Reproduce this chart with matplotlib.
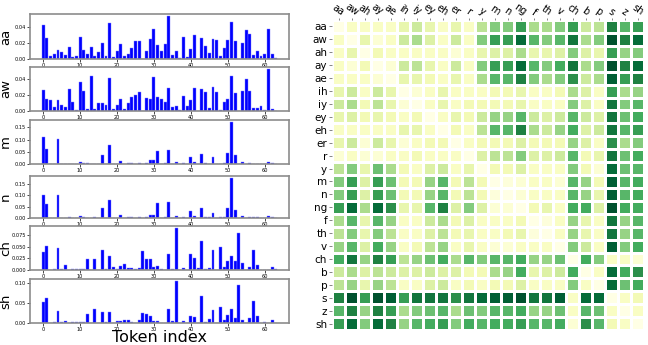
import matplotlib
matplotlib.use("Agg")
import matplotlib.pyplot as plt
import numpy as np

# token attention weights for a few phones (64 tokens)
aa = [0.042, 0.026, 0.004, 0.006, 0.0115, 0.0085, 0.005, 0.015, 0.003, 0.004,
      0.027, 0.0115, 0.0065, 0.015, 0.004, 0.009, 0.0195, 0.004, 0.044, 0.002,
      0.0105, 0.019, 0.004, 0.006, 0.013, 0.022, 0.022, 0.0, 0.0105, 0.025,
      0.037, 0.017, 0.010, 0.019, 0.053, 0.0055, 0.0105, 0.001, 0.0275, 0.002,
      0.012, 0.030, 0.0002, 0.0265, 0.0155, 0.008, 0.025, 0.023, 0.004, 0.0135,
      0.024, 0.046, 0.022, 0.0, 0.0195, 0.036, 0.0315, 0.0045, 0.010, 0.0035,
      0.006, 0.037, 0.006, 0.0015]
aw = [0.0265, 0.0156, 0.014, 0.005, 0.0135, 0.007, 0.005, 0.028, 0.011, 0.0017,
      0.036, 0.025, 0.0025, 0.044, 0.0025, 0.0097, 0.0097, 0.008, 0.042, 0.003,
      0.007, 0.015, 0.003, 0.0105, 0.017, 0.020, 0.0235, 0.0, 0.016, 0.015,
      0.0425, 0.018, 0.0147, 0.011, 0.029, 0.0055, 0.0063, 0.001, 0.019, 0.0063,
      0.014, 0.0286, 0.0003, 0.027, 0.0235, 0.004, 0.030, 0.0235, 0.001, 0.0118,
      0.0156, 0.044, 0.022, 0.0, 0.025, 0.040, 0.0257, 0.004, 0.004, 0.0063,
      0.0017, 0.0526, 0.002, 0.0004]
m = [0.111, 0.063, 0.001, 0.001, 0.102, 0.001, 0.001, 0.001, 0.001, 0.001,
     0.007, 0.004, 0.004, 0.0, 0.001, 0.002, 0.0385, 0.001, 0.076, 0.001,
     0.002, 0.0125, 0.001, 0.004, 0.004, 0.001, 0.004, 0.0, 0.004, 0.0165,
     0.0165, 0.052, 0.001, 0.0055, 0.058, 0.001, 0.007, 0.001, 0.003, 0.001,
     0.0275, 0.008, 0.001, 0.043, 0.005, 0.001, 0.029, 0.002, 0.002, 0.004,
     0.044, 0.172, 0.0385, 0.0, 0.0095, 0.001, 0.0055, 0.001, 0.001, 0.001,
     0.001, 0.007, 0.004, 0.001]
n = [0.102, 0.062, 0.001, 0.001, 0.102, 0.001, 0.001, 0.003, 0.001, 0.001,
     0.007, 0.003, 0.001, 0.0, 0.003, 0.001, 0.044, 0.001, 0.077, 0.001,
     0.001, 0.0125, 0.001, 0.004, 0.004, 0.001, 0.004, 0.0, 0.004, 0.014,
     0.014, 0.066, 0.001, 0.0055, 0.070, 0.001, 0.0095, 0.001, 0.003, 0.001,
     0.030, 0.0095, 0.001, 0.0455, 0.004, 0.005, 0.0235, 0.001, 0.005, 0.005,
     0.0455, 0.175, 0.037, 0.0, 0.007, 0.001, 0.004, 0.003, 0.003, 0.001,
     0.001, 0.008, 0.003, 0.001]
ch = [0.039, 0.052, 0.001, 0.002, 0.047, 0.003, 0.010, 0.001, 0.002, 0.0015,
      0.0015, 0.003, 0.0235, 0.001, 0.0235, 0.001, 0.042, 0.002, 0.031, 0.006,
      0.003, 0.008, 0.013, 0.0045, 0.0045, 0.002, 0.0045, 0.041, 0.023, 0.023,
      0.006, 0.008, 0.002, 0.001, 0.034, 0.003, 0.090, 0.001, 0.004, 0.001,
      0.034, 0.026, 0.004, 0.062, 0.003, 0.005, 0.042, 0.001, 0.049, 0.0065,
      0.020, 0.030, 0.020, 0.080, 0.014, 0.001, 0.007, 0.044, 0.011, 0.001,
      0.001, 0.001, 0.007, 0.002]
sh = [0.052, 0.064, 0.001, 0.003, 0.031, 0.002, 0.006, 0.001, 0.002, 0.002,
      0.002, 0.002, 0.022, 0.001, 0.036, 0.001, 0.028, 0.002, 0.027, 0.001,
      0.004, 0.004, 0.007, 0.007, 0.002, 0.001, 0.007, 0.026, 0.023, 0.018,
      0.004, 0.005, 0.001, 0.001, 0.035, 0.004, 0.106, 0.001, 0.006, 0.001,
      0.018, 0.016, 0.001, 0.068, 0.002, 0.009, 0.033, 0.001, 0.040, 0.007,
      0.020, 0.035, 0.012, 0.097, 0.007, 0.001, 0.013, 0.055, 0.018, 0.001,
      0.002, 0.001, 0.007, 0.001]

bar_names = ["aa", "aw", "m", "n", "ch", "sh"]
bar_series = [aa, aw, m, n, ch, sh]
bar_yticks = [[0, 0.02, 0.04], [0, 0.02, 0.04], [0, 0.05, 0.10, 0.15],
              [0, 0.05, 0.10, 0.15], [0, 0.025, 0.05, 0.075], [0, 0.05, 0.10]]
bar_yfmt = ["%.2f", "%.2f", "%.2f", "%.2f", "%.3f", "%.2f"]

# distance between phones (0 = same, 10 = far)
phones = ["aa", "aw", "ah", "ay", "ae", "ih", "iy", "ey", "eh", "er", "r", "y",
          "m", "n", "ng", "f", "th", "v", "ch", "b", "p", "s", "z", "sh"]
dist = [
    [0, 1, 1, 1, 1, 2, 3, 2, 1, 2, 1, 3.5, 5, 5, 7, 4, 4, 5, 7, 3, 3.5, 8, 6, 7],
    [1, 0, 2, 0.5, 1, 3, 4, 2.5, 1, 3, 1, 5, 7, 7, 9, 6, 5, 6, 8.5, 4, 5, 10, 8, 9],
    [1, 2, 0, 1.5, 1, 1, 1, 1, 1, 0.5, 1, 2, 2.5, 2.5, 4, 2, 2, 2.5, 5, 2.5, 2, 7, 4.5, 5],
    [1, 0.5, 1.5, 0, 0.5, 3, 3.5, 2, 1, 3, 1, 5, 7, 7, 9, 6, 5, 6.5, 8.5, 4, 5, 10, 8, 9],
    [1, 1, 1, 0.5, 0, 2, 2, 1.5, 1, 2, 1, 4, 6, 6, 8, 5, 4, 5, 7.5, 3, 4, 9.5, 7, 8],
    [2, 3, 1, 3, 2, 0, 0.5, 1, 2, 1, 1, 1, 1.5, 1.5, 2, 1, 1, 1.5, 4, 2.5, 1, 7, 4, 4.5],
    [3, 4, 1.5, 3.5, 2, 0.5, 0, 1, 2, 1, 1.5, 1.5, 1.5, 1.5, 2, 1, 1, 1, 5, 2.5, 1, 8.5, 5, 6],
    [2, 2.5, 1.5, 2, 1.5, 1, 1.5, 0, 1, 2, 1.5, 3, 4.5, 4.5, 6, 3, 2.5, 3, 6, 3, 2.5, 8.5, 5.5, 6.5],
    [1, 1, 1, 1, 1, 2, 2, 1, 0, 1.5, 1, 3.5, 6, 6, 8, 4, 3, 4.5, 6.5, 2.5, 3, 8.5, 6, 7],
    [2, 3, 0.5, 3, 2, 0.5, 1, 1.5, 1.5, 0, 1, 1.5, 1.5, 1.5, 2.5, 1.5, 1.5, 1.5, 4.5, 2.5, 1, 7.5, 4, 5],
    [0.5, 1, 0.5, 0.5, 1, 1, 1.5, 1, 1, 1, 0, 2.5, 3.5, 3.5, 5, 2.5, 2.5, 3, 6, 1.5, 2, 8.5, 5.5, 6.5],
    [3.5, 5, 2, 5.5, 4, 1.5, 1, 2.5, 3, 1, 2, 0, 1.5, 1.5, 2.5, 1, 1, 1, 5, 1.5, 0.5, 9, 5.5, 6],
    [5, 7, 2.5, 7, 5.5, 1.5, 1.5, 4.5, 6, 1.5, 3.5, 1.5, 0, 0.3, 0.5, 1, 1, 0.5, 6, 4.5, 1.5, 9.5, 6, 6.5],
    [5, 7, 2.5, 7, 5.5, 1.5, 1.5, 4.5, 6, 1.5, 3.5, 1.5, 0.3, 0, 0.5, 1, 1, 1, 6, 4.5, 2, 9.5, 6, 6.5],
    [7, 9, 4, 9, 7.5, 2, 2, 6, 8, 2.5, 5, 2.5, 0.5, 0.5, 0, 1.5, 2, 1, 6.5, 6.5, 2.5, 10, 6.5, 6.5],
    [4, 6, 2, 6, 4.5, 1, 1, 3, 4, 1.5, 2.5, 1, 1, 1, 1.5, 0, 0.3, 1, 4.5, 2, 1, 8.5, 4.5, 6],
    [3.5, 5, 2, 5, 3.5, 1, 1, 2.5, 3.5, 1.5, 2, 1, 1, 1.5, 2, 0.3, 0, 1, 4.5, 2, 1, 8.5, 4.5, 6],
    [4.5, 6, 2.5, 6.5, 4.5, 1, 1.5, 3.5, 4.5, 1, 2, 1, 0.5, 0.5, 1, 1, 1, 0, 5, 3, 1, 9.5, 5, 6.5],
    [6.5, 8.5, 4.5, 8, 7, 3.5, 4.5, 5.5, 6.5, 4, 6, 5, 6, 6, 6.5, 4.5, 4.5, 5.5, 0, 6.5, 5, 1, 1, 0.5],
    [3, 4, 2.5, 3.5, 3, 2.5, 2.5, 3, 2.5, 2.5, 1.5, 1.5, 4, 4.5, 6.5, 2, 2.5, 3, 6.5, 0, 1, 9, 6.5, 7.5],
    [3.5, 4.5, 2, 4.5, 3.5, 1, 1, 2.5, 3, 1, 1.5, 1, 1.5, 1.5, 2.5, 1, 1, 1, 5, 1, 0, 9, 5.5, 6.5],
    [8, 10, 7, 10, 9.5, 7, 8.5, 8.5, 8.5, 7.5, 8.5, 9, 9.5, 9.5, 10, 8.5, 8.5, 9.5, 1, 9, 9, 0, 1, 1.5],
    [6, 8, 4.5, 8, 7, 4, 5, 5.5, 6, 4, 5.5, 5, 6, 6, 6.5, 4.5, 4.5, 5.5, 1, 6, 5.5, 1, 0, 1],
    [7, 9, 5, 9, 8, 4.5, 6, 6.5, 7, 5, 6.5, 6, 6.5, 6.5, 7, 6, 6, 6.5, 0.5, 7.5, 6, 1.5, 1, 0],
]

fig = plt.figure(figsize=(6.48, 3.45), dpi=100)

# left column: bar plots
tops = [14, 67, 120, 176, 226, 279]
bots = [59, 111, 164, 218, 270, 323]
idx = np.arange(len(aa))
for k in range(6):
    ax = fig.add_axes([30 / 648, 1 - bots[k] / 345, 259 / 648, (bots[k] - tops[k]) / 345])
    ax.bar(idx, bar_series[k], width=0.8, color="blue", edgecolor="#8080ff", linewidth=0.3)
    ax.set_yticks(bar_yticks[k])
    ax.set_yticklabels([bar_yfmt[k] % v for v in bar_yticks[k]])
    ax.set_xticks([0, 10, 20, 30, 40, 50, 60])
    ax.tick_params(labelsize=3.6, length=2, width=0.5, pad=0.8)
    ax.set_ylabel(bar_names[k], fontsize=9.5)
    ax.yaxis.set_label_coords(-0.069, 0.5)
    for sp in ax.spines.values():
        sp.set_color("#8c8c8c")
        sp.set_linewidth(1.2)
    if k == 5:
        ax.set_xlabel("Token index", fontsize=11.5, labelpad=-1)

# right: phone distance heatmap
hx = fig.add_axes([332 / 648, 15 / 345, 312 / 648, 310 / 345])
D = np.array(dist)
hx.pcolormesh(D, cmap="YlGn", vmin=0, vmax=10.5, edgecolors="white", linewidth=1.0)
hx.set_xlim(0, len(phones))
hx.set_ylim(len(phones), 0)
hx.set_xticks(np.arange(len(phones)) + 0.5)
hx.set_yticks(np.arange(len(phones)) + 0.5)
hx.set_xticklabels(phones, rotation=-35, ha="center", fontsize=7)
hx.set_yticklabels(phones, fontsize=7.5)
hx.xaxis.tick_top()
hx.tick_params(axis="x", length=1.5, width=0.5, pad=0.5, color="#555555")
hx.tick_params(axis="y", length=2, width=0.5, pad=1.5, color="#555555")
for sp in hx.spines.values():
    sp.set_visible(False)

fig.savefig("out.png", dpi=100)
